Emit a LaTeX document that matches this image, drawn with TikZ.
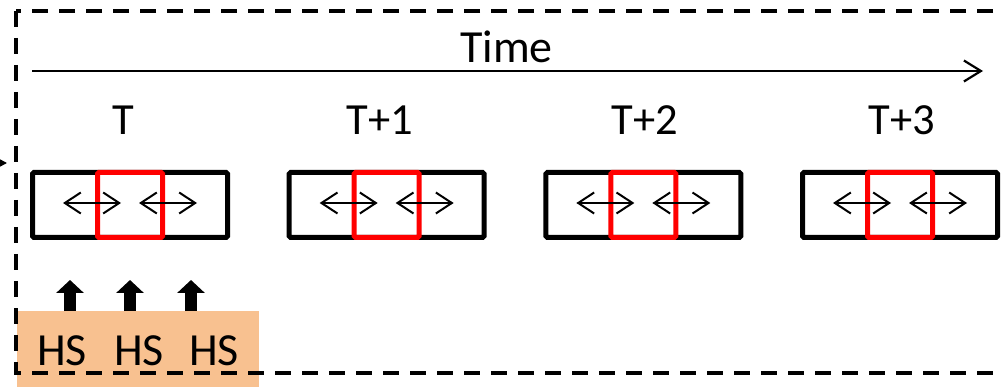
\documentclass[tikz,border=0pt]{standalone}
\usepackage{fontspec}
\setmainfont{Carlito}
\usetikzlibrary{arrows.meta}
\definecolor{hsfill}{RGB}{248,193,144}
\tikzset{
  framebox/.style={draw=black, line width=5pt, rounded corners=1.5pt,
    minimum width=195pt, minimum height=65pt, inner sep=0pt, outer sep=0pt},
  focusbox/.style={draw=red, line width=5pt, rounded corners=1.5pt,
    minimum width=65pt, minimum height=65pt, inner sep=0pt, outer sep=0pt},
  twoway/.style={line width=1.8pt, {Straight Barb[length=16pt,width=21pt,line width=2pt]}-{Straight Barb[length=16pt,width=21pt,line width=2pt]}},
  timeline/.style={line width=2.2pt, -{Straight Barb[length=17pt,width=21pt,line width=2.2pt]}},
  feed/.style={line width=12pt, -{Triangle[length=13pt,width=27pt]}},
  steplabel/.style={font=\fontsize{44.5}{48}\selectfont, anchor=base, inner sep=0pt},
  biglabel/.style={font=\fontsize{46}{50}\selectfont, anchor=base, inner sep=0pt},
  outerframe/.style={draw=black, line width=4pt, dash pattern=on 16pt off 11pt},
}
\begin{document}
\begin{tikzpicture}[x=1pt, y=-1pt]
  \clip (0,0) rectangle (1001,387);
  \fill[white] (0,0) rectangle (1001,387);

  % hidden-state input block
  \node[fill=hsfill, minimum width=242pt, minimum height=81pt, inner sep=0pt, anchor=north west] (hs) at (17,311) {};
  \node[biglabel] (hs1) at (62,365) {HS};
  \node[biglabel] (hs2) at (139,365) {HS};
  \node[biglabel] (hs3) at (214,365) {HS};

  % feed arrows from the input block
  \foreach \k/\x in {1/70, 2/130, 3/191} {
    \coordinate (f\k a) at (\x,311);
    \coordinate (f\k b) at (\x,280);
    \draw[feed] (f\k a) -- (f\k b);
  }

  % time axis
  \node[biglabel] (time) at (506.5,63) {Time};
  \coordinate (t0) at (32,71);
  \coordinate (t1) at (983,71);
  \draw[timeline] (t0) -- (t1);

  % time steps
  \foreach \i/\lab/\lx in {0/T/123, 1/T+1/380, 2/T+2/645, 3/T+3/902} {
    \pgfmathsetmacro{\c}{130 + \i*256.67}
    \node[steplabel] (lab\i) at (\lx,135) {\lab};
    \node[framebox] (box\i) at (\c,205) {};
    \node[focusbox] (red\i) at (\c,205) {};
    \coordinate (p\i a) at (\c-67,203);
    \coordinate (p\i b) at (\c-9,203);
    \coordinate (p\i c) at (\c+9,203);
    \coordinate (p\i d) at (\c+67,203);
    \draw[twoway] (p\i a) -- (p\i b);
    \draw[twoway] (p\i c) -- (p\i d);
  }

  % incoming link from the left
  \coordinate (inA) at (-20,163);
  \coordinate (inB) at (7,163);
  \draw[line width=1.5pt, -{Triangle[length=7pt,width=7pt]}] (inA) -- (inB);

  % dashed enclosure
  \draw[outerframe] (16,11) rectangle (1020,373);
\end{tikzpicture}
\end{document}
